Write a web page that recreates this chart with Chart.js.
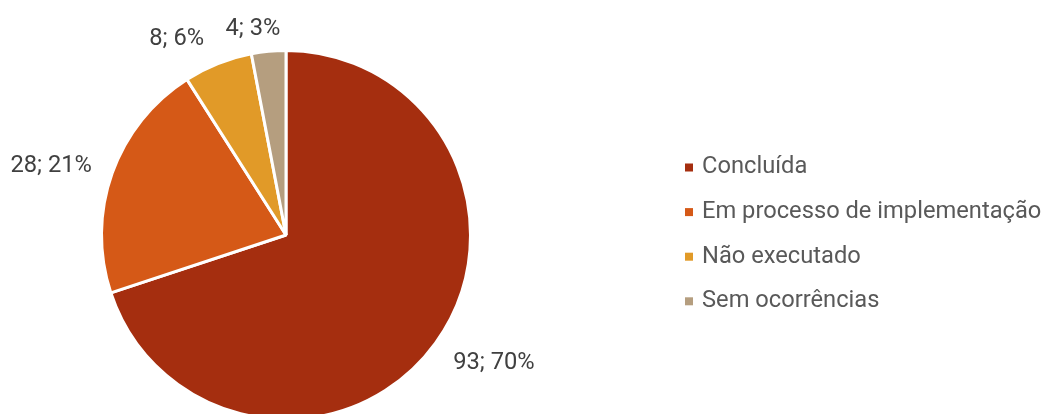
<!DOCTYPE html>
<html>
<head>
<meta charset="utf-8">
<script src="https://cdn.jsdelivr.net/npm/chart.js@4.4.1/dist/chart.umd.min.js"></script>
<style>
  html, body { margin: 0; padding: 0; background: #fff; overflow: hidden; }
  #wrap { width: 1046px; height: 414px; overflow: hidden; }
</style>
</head>
<body>
<div id="wrap"><canvas id="myChart" width="1046" height="432"></canvas></div>
<script>
const categories = ['Concluída', 'Em processo de implementação', 'Não executado', 'Sem ocorrências'];
const counts = [93, 28, 8, 4];
const percentLabels = ['70%', '21%', '6%', '3%'];
const sliceColors = ['#A52E0F', '#D55917', '#E19A28', '#B59E7F'];

const textFont = '23.7px Roboto, "Noto Sans", sans-serif';
// small hand nudges so the outside labels sit where the original put them
const labelNudge = [[7.6, 1.5], [-2, 3.5], [-23, 5], [-11, 9.5]];

// labels outside each slice, "count; percent"
const outsideLabels = {
  id: 'outsideLabels',
  afterDatasetsDraw(chart) {
    const ctx = chart.ctx;
    const arcs = chart.getDatasetMeta(0).data;
    ctx.save();
    ctx.font = textFont;
    ctx.fillStyle = '#404040';
    ctx.textAlign = 'center';
    ctx.textBaseline = 'middle';
    arcs.forEach((arc, i) => {
      const mid = (arc.startAngle + arc.endAngle) / 2;
      const cos = Math.cos(mid), sin = Math.sin(mid);
      const r = arc.outerRadius + 22;
      const txt = counts[i] + '; ' + percentLabels[i];
      const w = ctx.measureText(txt).width;
      const h = 20;
      const x = arc.x + cos * r + cos * w / 2 + labelNudge[i][0];
      const y = arc.y + sin * r + sin * h / 2 + labelNudge[i][1];
      ctx.fillText(txt, x, y);
    });
    ctx.restore();
  }
};

// legend on the right
const sideLegend = {
  id: 'sideLegend',
  afterDraw(chart) {
    const ctx = chart.ctx;
    ctx.save();
    ctx.font = textFont;
    ctx.textBaseline = 'middle';
    chart.data.labels.forEach((name, i) => {
      const y = 167.5 + i * 44.6;
      ctx.fillStyle = sliceColors[i];
      ctx.fillRect(685, y - 4, 8, 8);
      ctx.fillStyle = '#595959';
      ctx.fillText(name, 702, y);
    });
    ctx.restore();
  }
};

var ctx = document.getElementById('myChart').getContext('2d');
var chart = new Chart(ctx, {
  type: 'pie',
  data: {
    labels: categories,
    datasets: [{
      data: counts,
      backgroundColor: sliceColors,
      borderColor: '#ffffff',
      borderWidth: 3,
      clip: false
    }]
  },
  options: {
    responsive: false,
    animation: false,
    devicePixelRatio: 1,
    layout: { padding: { left: 100, right: 1046 - 472, top: 49, bottom: 432 - 421 } },
    plugins: {
      legend: { display: false },
      tooltip: { enabled: false }
    }
  },
  plugins: [outsideLabels, sideLegend]
});
</script>
</body>
</html>
